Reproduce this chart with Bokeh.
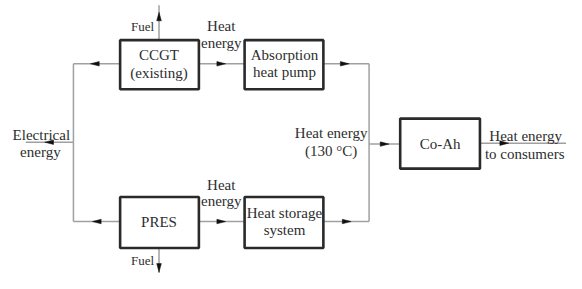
from bokeh.plotting import figure
from bokeh.models import Range1d
from bokeh.core.properties import value
from bokeh.embed import file_html
from bokeh.resources import INLINE

# ---- diagram content ----
box_names = ["CCGT", "AHP", "PRES", "HSS", "CoAh"]
box_left = [123, 251, 123, 251, 411]
box_right = [204, 332, 204, 332, 493]
box_top = [42, 42, 208, 208, 125]
box_bottom = [94, 94, 262, 262, 178]

label_text = ["CCGT", "(existing)", "Absorption", "heat pump", "PRES",
              "Heat storage", "system", "Co-Ah",
              "Heat", "energy", "Heat", "energy",
              "Electrical", "energy",
              "Heat energy", "(130 °C)",
              "Heat energy", "to consumers"]
label_x = [163, 163, 292, 292, 163, 292, 292, 452,
           227, 227, 227, 227, 42, 41, 340, 340, 540, 539]
label_y = [58, 77, 58, 76, 235, 225, 243, 152,
           27, 45, 195, 212, 142, 160, 140, 159, 143, 162]

fuel_text = ["Fuel", "Fuel"]
fuel_x = [158, 158]
fuel_y = [27, 275]

# connecting lines (x0, y0, x1, y1)
line_x0 = [75, 75, 75, 26, 204, 204, 332, 332, 379, 379, 493, 163, 163]
line_y0 = [67, 67, 234, 150, 67, 234, 67, 234, 67, 152, 151, 42, 262]
line_x1 = [75, 123, 123, 75, 251, 251, 379, 379, 379, 411, 582, 163, 163]
line_y1 = [234, 67, 234, 150, 67, 234, 67, 234, 234, 152, 151, 5, 289]

# arrowheads: centre position and direction
arrow_x = [97, 99, 50, 227, 227, 354, 356, 395, 518, 163, 163]
arrow_y = [67, 234, 150, 67, 234, 67, 234, 152, 151, 17, 283]
arrow_dir = ["L", "L", "L", "R", "R", "R", "R", "R", "R", "U", "D"]

p = figure(width=566, height=273, x_range=Range1d(0, 582), y_range=Range1d(289, 0),
           output_backend="svg", toolbar_location=None, min_border=0,
           background_fill_color="white", border_fill_color="white")
p.axis.visible = False
p.grid.visible = False
p.outline_line_color = None

line_col = "#a0a0a0"
p.segment(x0=line_x0, y0=line_y0, x1=line_x1, y1=line_y1,
          line_color=line_col, line_width=1.5)

# arrowheads
dirs = {"L": (-1, 0), "R": (1, 0), "U": (0, -1), "D": (0, 1)}
xs, ys = [], []
L, w = 9, 2.4
for ax, ay, d in zip(arrow_x, arrow_y, arrow_dir):
    dx, dy = dirs[d]
    tipx, tipy = ax + dx * L / 2, ay + dy * L / 2
    bx, by = ax - dx * L / 2, ay - dy * L / 2
    px, py = -dy, dx
    xs.append([tipx, bx + px * w, bx - px * w])
    ys.append([tipy, by + py * w, by - py * w])
p.patches(xs, ys, fill_color="#111111", line_color="#111111", line_width=0.5)

# boxes
p.quad(left=box_left, right=box_right, top=box_top, bottom=box_bottom,
       fill_color="white", line_color="#2a2a2a", line_width=2.6)

font = value("Liberation Serif")
p.text(x=label_x, y=label_y, text=label_text, text_font=font,
       text_font_size="15px", text_color="#2e2e2e",
       text_align="center", text_baseline="middle")
p.text(x=fuel_x, y=fuel_y, text=fuel_text, text_font=font,
       text_font_size="13px", text_color="#2e2e2e",
       text_align="right", text_baseline="middle")

open("out.html", "w").write(file_html(p, INLINE))
